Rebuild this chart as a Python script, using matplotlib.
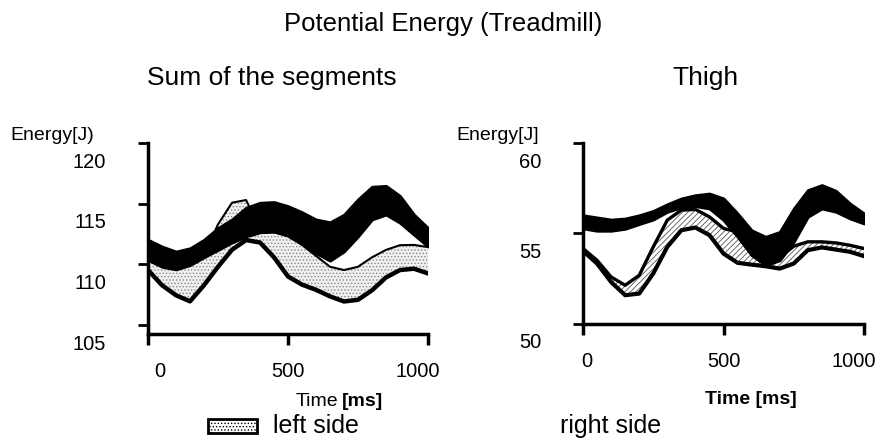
import matplotlib.pyplot as plt
from matplotlib.patches import Rectangle
from matplotlib.transforms import ScaledTranslation

plt.rcParams['font.family'] = ['Liberation Sans', 'DejaVu Sans']
plt.rcParams['hatch.linewidth'] = 0.6

# time axis (ms)
time_ms = [0, 50, 100, 150, 200, 250, 300, 350, 400, 450, 500,
           550, 600, 650, 700, 750, 800, 850, 900, 950, 1000]

# Sum of the segments [J]
sum_right_hi = [112.03, 111.47, 111.06, 111.33, 112.03, 113.0, 113.7, 114.67, 115.08, 115.14, 114.8,
                114.3, 113.7, 113.47, 114.1, 115.36, 116.4, 116.47, 115.64, 114.1, 113.0]
sum_right_lo = [110.36, 109.8, 109.58, 109.94, 110.58, 111.19, 111.8, 112.3, 112.64, 112.69, 112.44,
                111.75, 110.92, 110.3, 111.06, 112.3, 113.7, 114.1, 113.42, 112.44, 111.47]
sum_left_hi = [110.58, 110.08, 109.75, 110.03, 110.69, 113.3, 115.08, 115.3, 113.0, 112.64, 112.3,
               111.6, 110.7, 109.8, 109.53, 109.8, 110.58, 111.19, 111.58, 111.6, 111.42]
sum_left_lo = [109.53, 108.28, 107.45, 106.95, 108.28, 109.8, 111.2, 112.0, 111.8, 110.58, 109.0,
               108.33, 107.9, 107.36, 106.94, 107.08, 107.86, 108.92, 109.53, 109.64, 109.25]

# Thigh [J]
thigh_right_hi = [56.01, 55.89, 55.77, 55.83, 56.01, 56.25, 56.62, 56.94, 57.12, 57.21, 56.94,
                  56.11, 55.18, 54.82, 55.09, 56.38, 57.40, 57.68, 57.36, 56.66, 56.11]
thigh_right_lo = [55.28, 55.15, 55.15, 55.26, 55.52, 55.77, 56.20, 56.44, 56.51, 56.38, 55.74,
                  54.82, 53.80, 53.25, 53.52, 54.54, 55.92, 56.38, 56.20, 55.83, 55.55]
thigh_left_hi = [54.17, 53.52, 52.60, 52.14, 52.69, 54.26, 55.74, 56.29, 56.33, 55.92, 55.28,
                 55.09, 54.54, 53.80, 53.67, 54.30, 54.54, 54.54, 54.48, 54.35, 54.17]
thigh_left_lo = [54.04, 53.34, 52.32, 51.59, 51.68, 52.79, 54.26, 55.18, 55.33, 54.91, 53.89,
                 53.38, 53.28, 53.19, 53.06, 53.34, 54.08, 54.23, 54.11, 53.99, 53.75]

W, H = 881, 441
fig = plt.figure(figsize=(W / 100, H / 100), dpi=100)
ax1 = fig.add_axes([148 / W, 1 - 334 / H, 280 / W, 191 / H])
ax2 = fig.add_axes([583 / W, 1 - 324 / H, 281 / W, 181 / H])

# left side bands (drawn first), right side bands in black on top
ax1.fill_between(time_ms, sum_left_lo, sum_left_hi, facecolor='#f0f0f0',
                 edgecolor='#888888', hatch='.....', lw=0, zorder=1)
ax1.plot(time_ms, sum_left_lo, color='black', lw=3.2, zorder=2)
ax1.plot(time_ms, sum_left_hi, color='black', lw=1.5, zorder=2)
ax1.fill_between(time_ms, sum_right_lo, sum_right_hi, color='black', lw=2, zorder=3)

ax2.fill_between(time_ms, thigh_left_lo, thigh_left_hi, facecolor='white',
                 edgecolor='#555555', hatch='//////', lw=0, zorder=1)
ax2.plot(time_ms, thigh_left_lo, color='black', lw=3, zorder=2)
ax2.plot(time_ms, thigh_left_hi, color='black', lw=2.4, zorder=2)
ax2.fill_between(time_ms, thigh_right_lo, thigh_right_hi, color='black', lw=2, zorder=3)

ax1.set_ylim(104.26, 120)
ax1.set_yticks([105, 110, 115, 120])
ax2.set_ylim(50, 60)
ax2.set_yticks([50, 55, 60])

down = ScaledTranslation(0, -0.17, fig.dpi_scale_trans)
# scanned labels sit a little off their ticks
x_shifts = {ax1: [0.12, 0, -0.10], ax2: [0.04, 0, -0.10]}
for ax in (ax1, ax2):
    ax.set_xlim(0, 1000)
    ax.set_xticks([0, 500, 1000])
    for s in ('top', 'right'):
        ax.spines[s].set_visible(False)
    for s in ('left', 'bottom'):
        ax.spines[s].set_linewidth(2.5)
    ax.tick_params(axis='y', direction='out', length=7, width=2, pad=23, labelsize=14.5)
    ax.tick_params(axis='x', direction='out', length=8, width=2.5, pad=12, labelsize=14.5)
    for lab in ax.get_yticklabels():
        lab.set_transform(lab.get_transform() + down)
    for lab, dx in zip(ax.get_xticklabels(), x_shifts[ax]):
        lab.set_transform(lab.get_transform() + ScaledTranslation(dx, 0, fig.dpi_scale_trans))

# titles and labels
fig.text(443 / W, 1 - 24 / H, 'Potential Energy (Treadmill)', ha='center', va='center', fontsize=18.5)
fig.text(272 / W, 1 - 78 / H, 'Sum of the segments', ha='center', va='center', fontsize=19)
fig.text(705 / W, 1 - 78 / H, 'Thigh', ha='center', va='center', fontsize=19)
fig.text(10 / W, 1 - 135 / H, 'Energy[J)', ha='left', va='center', fontsize=14)
fig.text(456 / W, 1 - 135 / H, 'Energy[J]', ha='left', va='center', fontsize=14)

fig.text(338 / W, 1 - 401 / H, 'Time', ha='right', va='center', fontsize=14)
fig.text(342 / W, 1 - 401 / H, '[ms]', ha='left', va='center', fontsize=14, fontweight='bold')
fig.text(751 / W, 1 - 400 / H, 'Time [ms]', ha='center', va='center', fontsize=14, fontweight='bold')

# legend
fig.add_artist(Rectangle((208 / W, 1 - 433 / H), 49 / W, 14 / H, transform=fig.transFigure,
                         facecolor='white', edgecolor='black', lw=2, hatch='.....'))
fig.text(273 / W, 1 - 426 / H, 'left side', ha='left', va='center', fontsize=18)
fig.text(560 / W, 1 - 426 / H, 'right side', ha='left', va='center', fontsize=18)

fig.savefig('out.png', dpi=100)
